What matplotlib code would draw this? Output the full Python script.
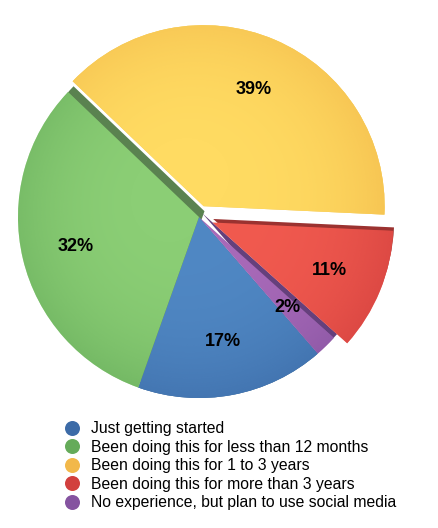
import numpy as np
import matplotlib.pyplot as plt
from matplotlib.lines import Line2D
from matplotlib.colors import to_rgb

# survey answers (percent, as printed on the chart)
labels = ['Just getting started',
          'Been doing this for less than 12 months',
          'Been doing this for 1 to 3 years',
          'Been doing this for more than 3 years',
          'No experience, but plan to use social media']
values = [17, 32, 39, 11, 2]
explode = [0.0, 0.0, 0.065, 0.08, 0.0]

face_colors = ['#5088c4', '#8bce75', '#ffdb62', '#f15a4f', '#a96ab9']
side_colors = ['#34597f', '#5a8250', '#f3c85c', '#9b3230', '#65407c']
legend_colors = ['#3c6ba7', '#65ab5a', '#f2b84a', '#d2403e', '#8553a0']
# how far the dark side of each slice peeks out (px, right / up)
side_shift = [(0, 0), (5.5, 5.8), (0, 0), (0.8, 3.5), (3.3, 3.7)]

W, H = 439, 528
fig = plt.figure(figsize=(W / 100, H / 100), dpi=100)
ax = fig.add_axes([0, 0, 1, 1])

cx, cy, R = 199, H - 217, 181
total = sum(values)
# matplotlib's explode is an absolute offset, so scale by the radius
common = dict(explode=[e * R for e in explode], startangle=311,
              counterclock=False, radius=R, frame=True, center=(cx, cy))

# the "thickness" of the 3d pie: darker copies peeking out behind
sides, _ = ax.pie(values, colors=side_colors,
                  wedgeprops=dict(linewidth=0, zorder=1), **common)
for s, (dx, dy) in zip(sides, side_shift):
    x, y = s.center
    s.set_center((x + dx, y + dy))

wedges, _, autotexts = ax.pie(
    values, colors=face_colors,
    autopct=lambda p: f'{p * total / 100:.0f}%', pctdistance=0.70,
    wedgeprops=dict(linewidth=0, zorder=2),
    textprops=dict(fontsize=13, fontweight='bold', color='black',
                   family='Liberation Sans', zorder=5),
    **common)

# soft shading towards the rim of each slice, in its own darker hue
n = 200
g = np.linspace(-1, 1, n)
gx, gy = np.meshgrid(g, g)
rr = np.sqrt(gx ** 2 + gy ** 2)
alpha = np.clip(0.55 * rr ** 3 + 0.12 * (gx - gy) / 2, 0, 0.65)
for w, c in zip(wedges, legend_colors):
    shade = np.zeros((n, n, 4))
    shade[..., :3] = to_rgb(c)
    shade[..., 3] = alpha
    wx, wy = w.center
    im = ax.imshow(shade, extent=(wx - R, wx + R, wy - R, wy + R),
                   origin='lower', zorder=3, interpolation='bilinear')
    im.set_clip_path(w)

ax.set_xlim(0, W)
ax.set_ylim(0, H)
ax.set_aspect('equal')
ax.axis('off')

handles = [Line2D([], [], marker='o', ls='', markersize=10.8,
                  markerfacecolor=c, markeredgewidth=0) for c in legend_colors]
ax.legend(handles, labels, loc='upper left',
          bbox_to_anchor=(65 / W, 1 - 421 / H), bbox_transform=fig.transFigure,
          frameon=False, borderpad=0, borderaxespad=0, handlelength=0.95,
          handletextpad=0.72, labelspacing=0.23,
          prop=dict(family='Liberation Sans', size=11.3))

fig.savefig('out.png', dpi=100, facecolor='white')
